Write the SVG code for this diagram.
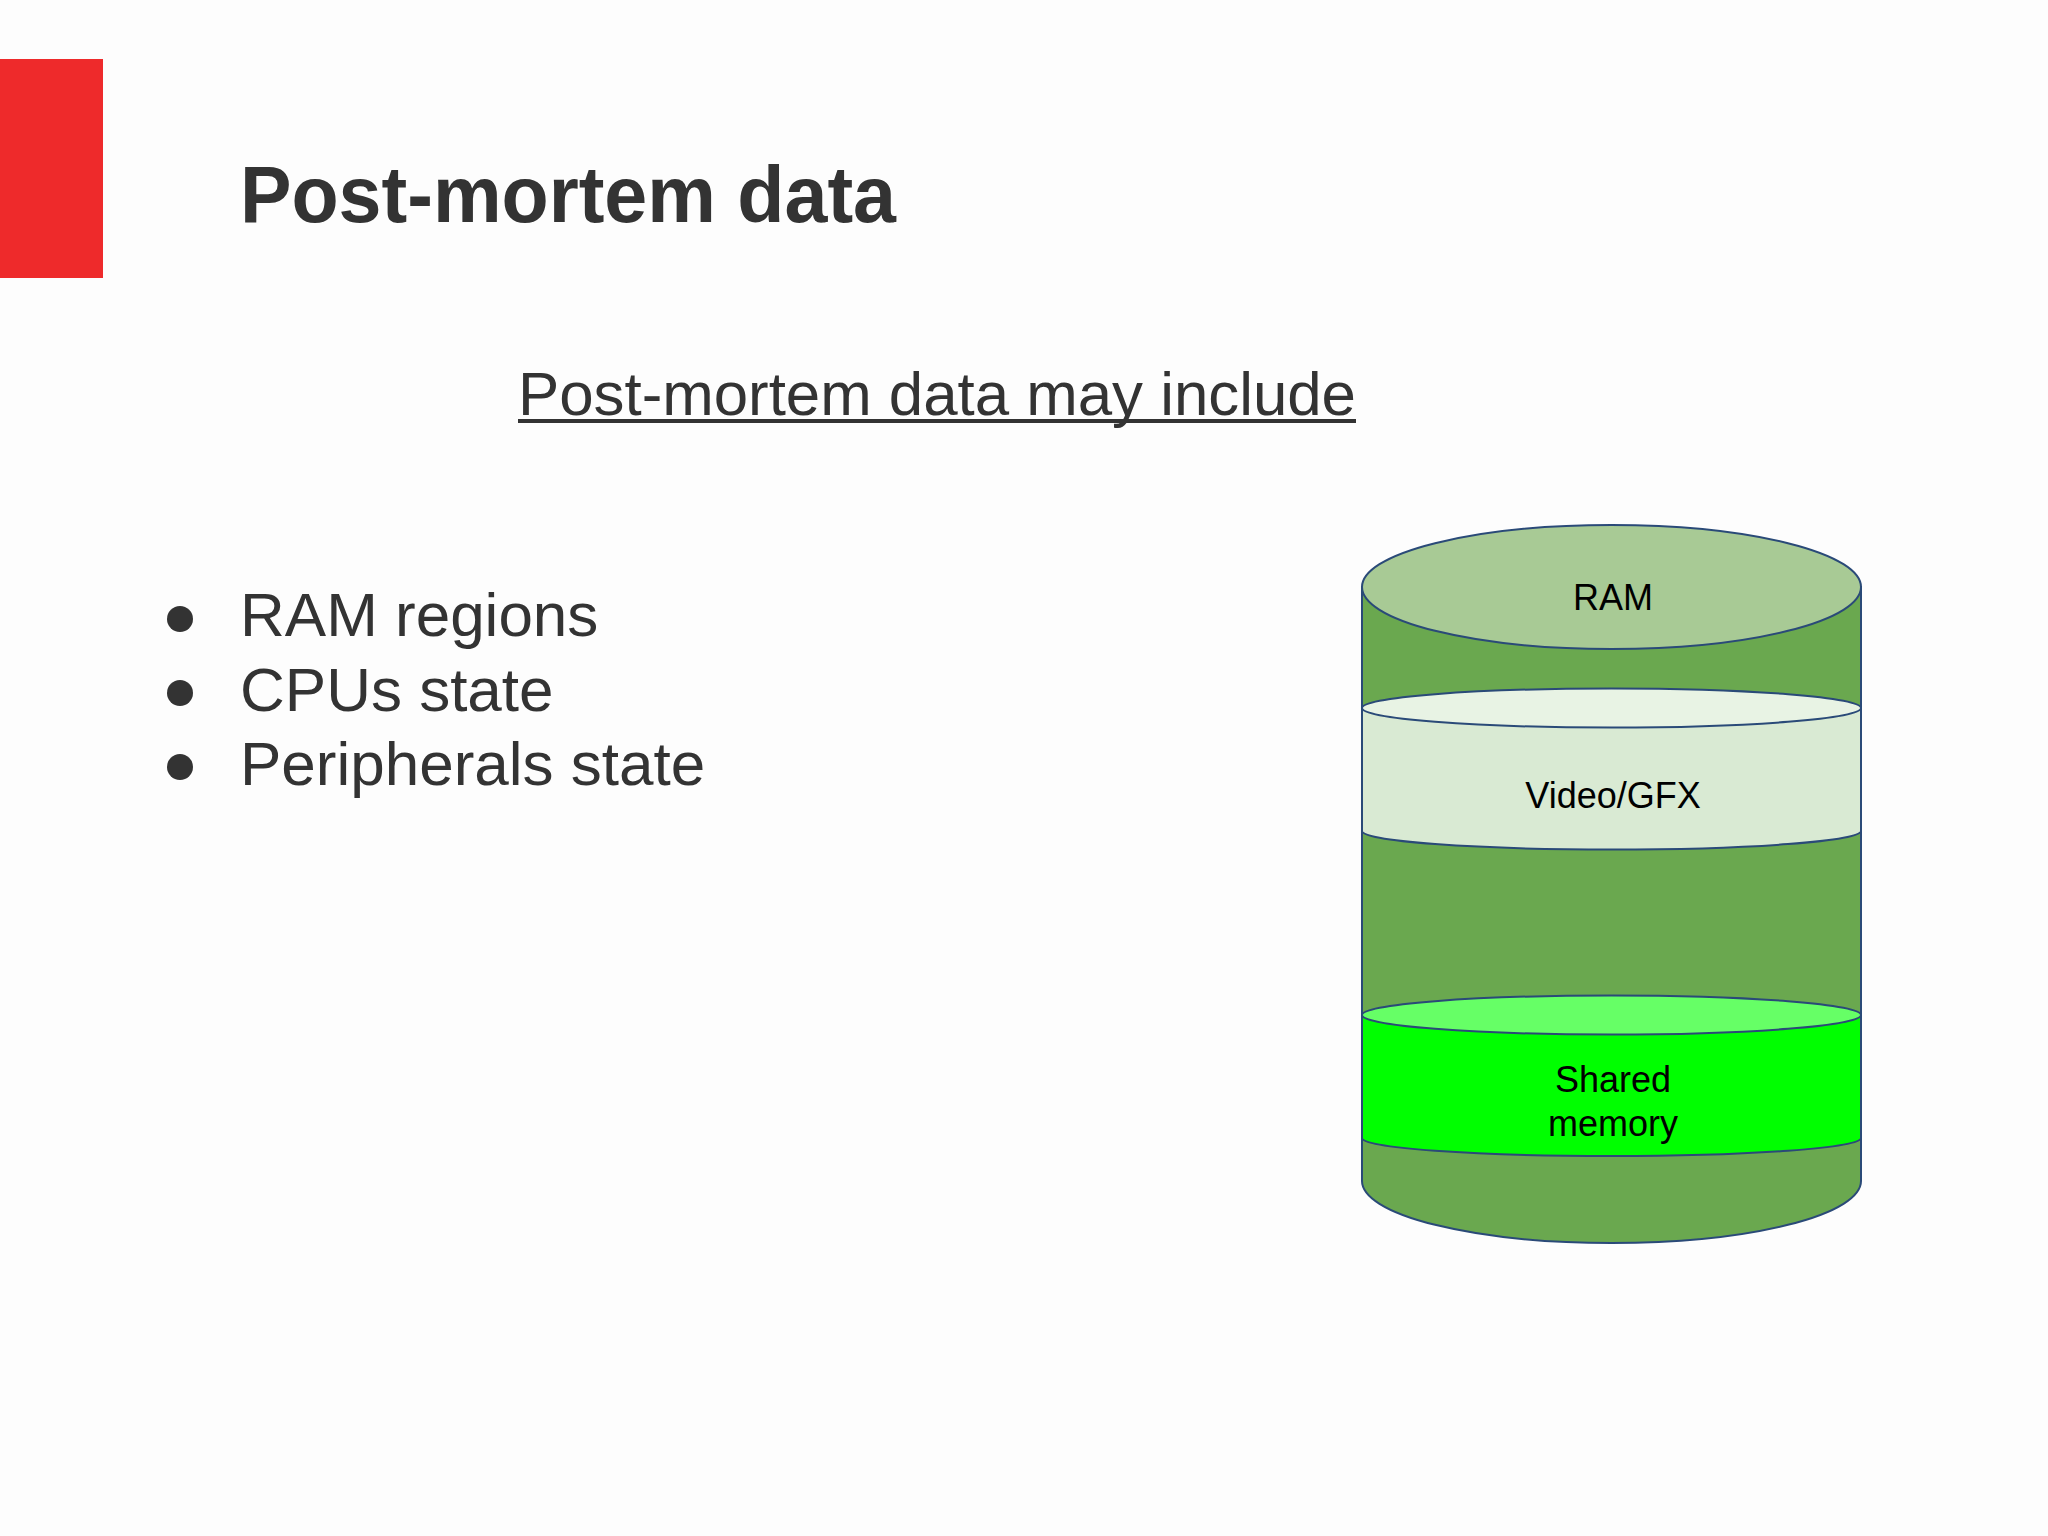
<svg xmlns="http://www.w3.org/2000/svg" width="2048" height="1536" viewBox="0 0 2048 1536">
<style>
.t{font-family:"Liberation Sans",Arial,sans-serif;fill:#333333}
.lbl{font-family:"Liberation Sans",Arial,sans-serif;fill:#000000;font-size:36px;text-anchor:middle}
.edge{stroke:#2a4a78;stroke-width:2}
</style>
<rect x="0" y="0" width="2048" height="1536" fill="#fdfdfd"/>
<rect id="accent" x="0" y="59" width="103" height="219" fill="#ee2a2b"/>
<text id="title" class="t" x="240" y="222" font-size="80" font-weight="bold" textLength="656" lengthAdjust="spacingAndGlyphs">Post-mortem data</text>
<g id="subtitle">
<text class="t" x="518" y="415" font-size="62" textLength="838" lengthAdjust="spacingAndGlyphs">Post-mortem data may include</text>
<rect x="518" y="419" width="838" height="4" fill="#333333"/>
</g>
<g id="bullets">
<circle cx="180" cy="619" r="13" fill="#333333"/>
<circle cx="180" cy="693" r="13" fill="#333333"/>
<circle cx="180" cy="767" r="13" fill="#333333"/>
<text class="t" x="240" y="636" font-size="62">RAM regions</text>
<text class="t" x="240" y="711" font-size="62">CPUs state</text>
<text class="t" x="240" y="785" font-size="62">Peripherals state</text>
</g>
<g id="cylinder">
<path class="edge" d="M1362,587 L1362,1181 A249.5,62 0 0 0 1861,1181 L1861,587 Z" fill="#6aa84f"/>
<g id="video">
<path class="edge" d="M1362,708 L1362,831 A249.5,18.5 0 0 0 1861,831 L1861,708 Z" fill="#d9ead3"/>
<ellipse class="edge" cx="1611.5" cy="708" rx="249.5" ry="19.5" fill="#e8f3e4"/>
<text class="lbl" x="1613" y="808">Video/GFX</text>
</g>
<g id="shared">
<path class="edge" d="M1362,1015 L1362,1138 A249.5,18 0 0 0 1861,1138 L1861,1015 Z" fill="#00ff00"/>
<ellipse class="edge" cx="1611.5" cy="1015" rx="249.5" ry="19.5" fill="#66ff66"/>
<text class="lbl" x="1613" y="1092">Shared</text>
<text class="lbl" x="1613" y="1136">memory</text>
</g>
<g id="ram">
<ellipse class="edge" cx="1611.5" cy="587" rx="249.5" ry="62" fill="#a8ca95"/>
<text class="lbl" x="1613" y="610">RAM</text>
</g>
</g>
</svg>
